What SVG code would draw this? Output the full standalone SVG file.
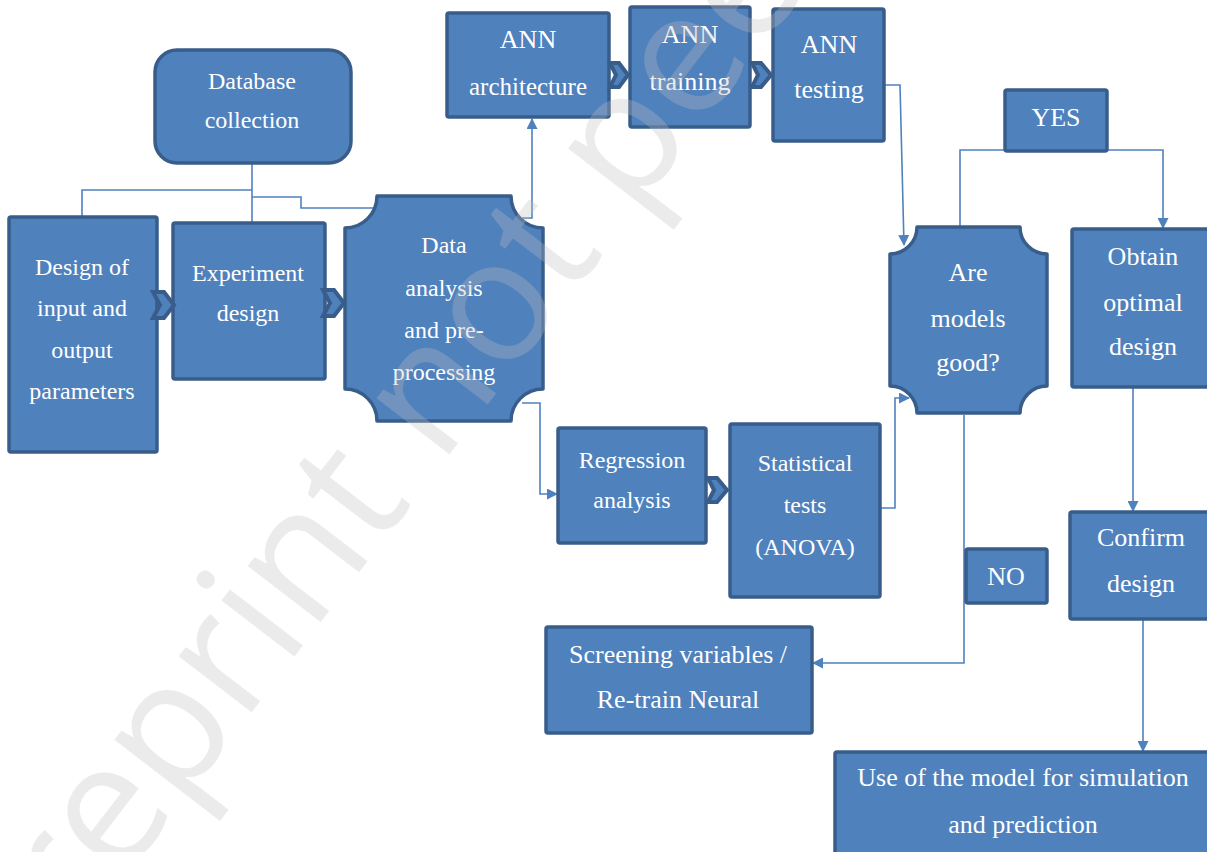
<svg xmlns="http://www.w3.org/2000/svg" width="1207" height="852" viewBox="0 0 1207 852">
<style>
.box{fill:#4f81bd;stroke:#385d8a;stroke-width:3.5;stroke-linejoin:round}
.chev{fill:#4f81bd;stroke:#385d8a;stroke-width:4;stroke-linejoin:miter}
.t24{font-family:'Liberation Serif','DejaVu Serif','Noto Serif',serif;font-size:24px;fill:#ffffff;text-anchor:middle}
.t26{font-family:'Liberation Serif','DejaVu Serif','Noto Serif',serif;font-size:26px;fill:#ffffff;text-anchor:middle}
.con{fill:none;stroke:#4f81bd;stroke-width:1.6}
.arr{fill:none;stroke:#4f81bd;stroke-width:1.6;marker-end:url(#ah)}
.wm{font-family:'Open Sans',sans-serif;font-size:172px;fill:#bfbfbf;opacity:0.3}
</style>
<defs>
<marker id="ah" markerUnits="userSpaceOnUse" markerWidth="11" markerHeight="11" refX="10" refY="5.5" orient="auto">
<path d="M0,0 L11,5.5 L0,11 z" fill="#4f81bd"/>
</marker>
</defs>
<rect width="1207" height="852" fill="#ffffff"/>

<g id="connectors">
<path class="con" d="M252,163 V223"/>
<path class="con" d="M252,190 H82 V217"/>
<path class="con" d="M252,197 H301 V208 H377"/>
<path class="arr" d="M522,218 H532 V119"/>
<path class="arr" d="M522,403 H540 V494 H557"/>
<path class="arr" d="M885,85 H900 L904,245"/>
<path class="arr" d="M880,508 H895 V398 H909"/>
<path class="con" d="M960,227 V150 H1005"/>
<path class="arr" d="M1107,150 H1163 V228"/>
<path class="arr" d="M964,415 V663 H813"/>
<path class="arr" d="M1133,388 V511"/>
<path class="arr" d="M1143,620 V751"/>
</g>

<g id="database">
<rect class="box" x="155" y="50" width="196" height="113" rx="22"/>
<text class="t24" x="252" y="89">Database</text>
<text class="t24" x="252" y="128">collection</text>
</g>

<g id="design-io">
<rect class="box" x="9" y="217" width="148" height="235" rx="2"/>
<text class="t24" x="82" y="275">Design of</text>
<text class="t24" x="82" y="316">input and</text>
<text class="t24" x="82" y="358">output</text>
<text class="t24" x="82" y="399">parameters</text>
</g>

<g id="experiment">
<rect class="box" x="173" y="223" width="152" height="156" rx="2"/>
<text class="t24" x="248" y="281">Experiment</text>
<text class="t24" x="248" y="321">design</text>
</g>

<g id="data-analysis">
<path class="box" d="M377,196 H511 A32,32 0 0 0 543,228 V389 A32,32 0 0 0 511,421 H377 A32,32 0 0 0 345,389 V228 A32,32 0 0 0 377,196 Z"/>
<text class="t24" x="444" y="253">Data</text>
<text class="t24" x="444" y="296">analysis</text>
<text class="t24" x="444" y="338">and pre-</text>
<text class="t24" x="444" y="380">processing</text>
</g>

<g id="ann-architecture">
<rect class="box" x="447" y="13" width="162" height="104" rx="2"/>
<text class="t26" x="528" y="48">ANN</text>
<text class="t26" x="528" y="95" style="font-size:25px">architecture</text>
</g>

<g id="ann-training">
<rect class="box" x="630" y="7" width="120" height="120" rx="2"/>
<text class="t26" x="690" y="43">ANN</text>
<text class="t26" x="690" y="90">training</text>
</g>

<g id="ann-testing">
<rect class="box" x="773" y="9" width="111" height="132" rx="2"/>
<text class="t26" x="829" y="53">ANN</text>
<text class="t26" x="829" y="98">testing</text>
</g>

<g id="regression">
<rect class="box" x="558" y="428" width="148" height="115" rx="2"/>
<text class="t24" x="632" y="468">Regression</text>
<text class="t24" x="632" y="508">analysis</text>
</g>

<g id="statistical">
<rect class="box" x="730" y="424" width="150" height="173" rx="2"/>
<text class="t24" x="805" y="471">Statistical</text>
<text class="t24" x="805" y="513">tests</text>
<text class="t24" x="805" y="555">(ANOVA)</text>
</g>

<g id="are-models-good">
<path class="box" d="M917,227 H1020 A27,27 0 0 0 1047,254 V386 A27,27 0 0 0 1020,413 H917 A27,27 0 0 0 890,386 V254 A27,27 0 0 0 917,227 Z"/>
<text class="t26" x="968" y="281">Are</text>
<text class="t26" x="968" y="327">models</text>
<text class="t26" x="968" y="371">good?</text>
</g>

<g id="yes">
<rect class="box" x="1005" y="90" width="102" height="61" rx="2"/>
<text class="t26" x="1056" y="126">YES</text>
</g>

<g id="obtain">
<rect class="box" x="1072" y="229" width="145" height="158" rx="2"/>
<text class="t26" x="1143" y="265">Obtain</text>
<text class="t26" x="1143" y="311">optimal</text>
<text class="t26" x="1143" y="355">design</text>
</g>

<g id="no">
<rect class="box" x="966" y="549" width="81" height="54" rx="2"/>
<text class="t26" x="1006" y="585">NO</text>
</g>

<g id="confirm">
<rect class="box" x="1070" y="512" width="147" height="107" rx="2"/>
<text class="t26" x="1141" y="546">Confirm</text>
<text class="t26" x="1141" y="592">design</text>
</g>

<g id="screening">
<rect class="box" x="546" y="627" width="266" height="106" rx="2"/>
<text class="t26" x="678" y="663">Screening variables /</text>
<text class="t26" x="678" y="708">Re-train Neural</text>
</g>

<g id="use-model">
<rect class="box" x="835" y="752" width="385" height="110" rx="2"/>
<text class="t26" x="1023" y="786">Use of the model for simulation</text>
<text class="t26" x="1023" y="833">and prediction</text>
</g>

<g id="chevrons">
<polygon class="chev" points="153,292 164,292 174,305 164,318 153,318 160,305"/>
<polygon class="chev" points="323,290 334,290 344,303 334,316 323,316 330,303"/>
<polygon class="chev" points="610,63 619,63 628,75 619,87 610,87 616,75"/>
<polygon class="chev" points="752,63 761,63 771,75 761,87 752,87 758,75"/>
<polygon class="chev" points="708,478 717,478 727,490 717,502 708,502 714,490"/>
</g>

<text class="wm" transform="translate(14,1022) rotate(-52.5)">Preprint not peer reviewed</text>
</svg>
